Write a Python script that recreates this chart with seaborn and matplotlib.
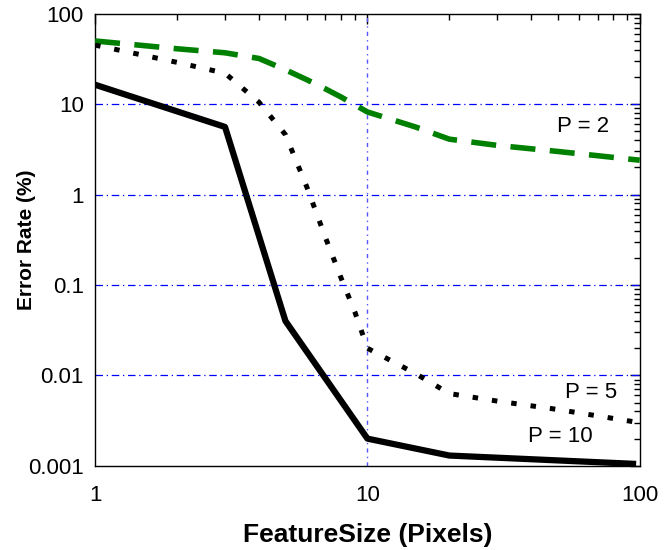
import matplotlib
matplotlib.use('Agg')
import matplotlib.pyplot as plt
import matplotlib.ticker as mticker
import seaborn as sns

# feature size (pixels) vs error rate (%)
x_p2 = [1, 2, 3, 4, 5, 6, 7, 8, 10, 15, 20, 30, 50, 100]
y_p2 = [50, 41, 37, 32, 24, 18.6, 14.8, 12, 8.2, 5.6, 4.1, 3.5, 3.0, 2.4]

x_p5 = [1, 2, 3, 4, 5, 6, 7, 8, 9, 10, 15, 20, 30, 50, 100]
y_p5 = [45, 29, 22, 10.5, 4.6, 1.2, 0.34, 0.12, 0.05, 0.02, 0.0105, 0.0063, 0.0052, 0.0042, 0.003]

x_p10 = [1, 3, 5, 10, 20, 97]
y_p10 = [16.4, 5.6, 0.04, 0.002, 0.0013, 0.00105]

x_ticks = [1, 10, 100]
x_ticklabels = ['1', '10', '100']
y_ticks = [0.001, 0.01, 0.1, 1, 10, 100]
y_ticklabels = ['0.001', '0.01', '0.1', '1', '10', '100']

sns.set_style('white')
plt.rcParams['font.family'] = ['Liberation Sans', 'DejaVu Sans']
for k in ['text.color', 'axes.labelcolor', 'xtick.color', 'ytick.color']:
    plt.rcParams[k] = 'black'

fig, ax = plt.subplots(figsize=(6.65, 5.5), dpi=100)
fig.subplots_adjust(left=0.143, right=0.962, top=0.975, bottom=0.153)

sns.lineplot(x=x_p2, y=y_p2, ax=ax, color='#008000', lw=4,
             linestyle=(0, (4.5, 2.6)), dash_capstyle='butt', zorder=3)
sns.lineplot(x=x_p5, y=y_p5, ax=ax, color='black', lw=3.6,
             linestyle=(0, (1.1, 2.8)), dash_capstyle='butt', zorder=3)
sns.lineplot(x=x_p10, y=y_p10, ax=ax, color='black', lw=4.5,
             solid_capstyle='butt', zorder=3)

ax.set_xscale('log')
ax.set_yscale('log')
ax.set_xlim(1, 100)
ax.set_ylim(0.001, 100)

ax.xaxis.set_major_locator(mticker.FixedLocator(x_ticks))
ax.xaxis.set_major_formatter(mticker.FixedFormatter(x_ticklabels))
ax.yaxis.set_major_locator(mticker.FixedLocator(y_ticks))
ax.yaxis.set_major_formatter(mticker.FixedFormatter(y_ticklabels))
ax.xaxis.set_minor_locator(mticker.LogLocator(subs=range(2, 10)))
ax.yaxis.set_minor_locator(mticker.LogLocator(subs=range(2, 10)))
ax.xaxis.set_minor_formatter(mticker.NullFormatter())
ax.yaxis.set_minor_formatter(mticker.NullFormatter())

ax.tick_params(which='both', direction='in', top=True, right=True,
               color='black', width=1)
ax.tick_params(which='major', length=7, labelsize=16)
ax.tick_params(axis='x', which='major', pad=14)
ax.tick_params(axis='y', which='major', pad=8)
ax.tick_params(which='minor', length=4)

for g in [0.01, 0.1, 1, 10]:
    ax.axhline(g, color='#0000ff', lw=0.9, ls=(0, (6, 3, 1, 3)), zorder=1)
ax.axvline(10, color='#5555ff', lw=1.0, ls=(0, (3, 3, 1, 3)), zorder=1)

for s in ax.spines.values():
    s.set_color('black')
    s.set_linewidth(1)

ax.set_xlabel('FeatureSize (Pixels)', fontsize=19, fontweight='bold')
ax.set_ylabel('Error Rate (%)', fontsize=15, fontweight='bold')
ax.xaxis.set_label_coords(0.5, -0.126)
ax.yaxis.set_label_coords(-0.108, 0.5)

ax.text(62, 5.6, 'P = 2', fontsize=16, ha='center', va='center')
ax.text(66, 0.0065, 'P = 5', fontsize=16, ha='center', va='center')
ax.text(51, 0.0021, 'P = 10', fontsize=16, ha='center', va='center')

fig.savefig('out.png', dpi=100)
